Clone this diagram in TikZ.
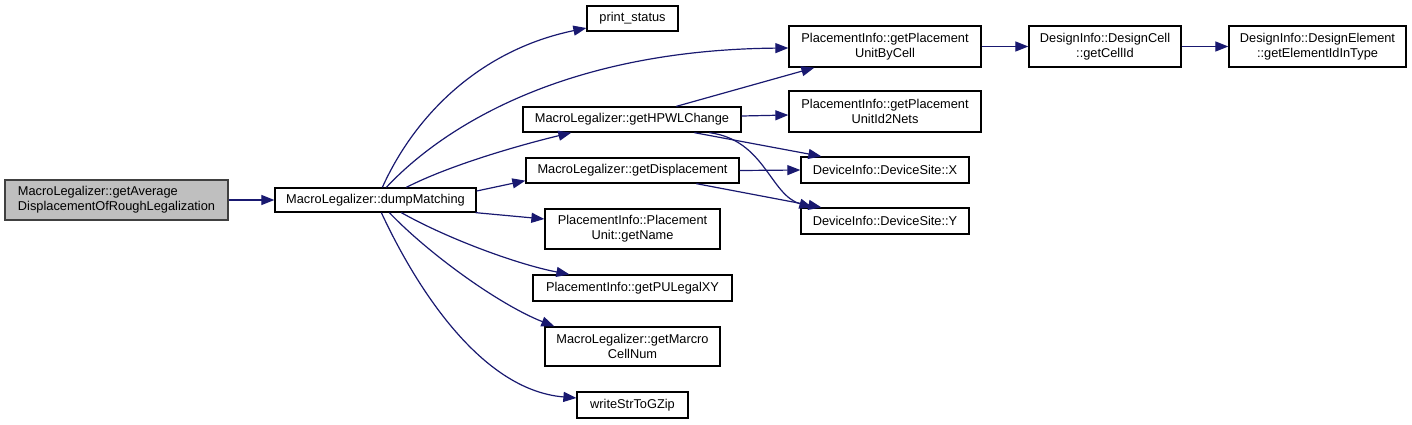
\documentclass[tikz,border=0pt]{standalone}
\usepackage{fontspec}
\setmainfont{Liberation Sans}
\usetikzlibrary{arrows.meta,calc}
\definecolor{edgeblue}{HTML}{191970}
\definecolor{rootfill}{HTML}{BFBFBF}
\definecolor{rootdraw}{HTML}{404040}
\tikzset{
  fn/.style={draw=black, line width=1.3pt, fill=white, inner sep=0pt, align=center,
    font=\fontsize{12.8}{15}\selectfont},
  rootbox/.style={fn, fill=rootfill, draw=rootdraw, align=left},
  call/.style={draw=edgeblue, line width=1.2pt, -{Triangle[length=13pt,width=10pt]}},
}
\begin{document}
\begin{tikzpicture}[x=1pt,y=-1pt]
\useasboundingbox (0,0) rectangle (1412,424);
% nodes
\node[rootbox, minimum width=223pt, minimum height=40pt] (root) at (116.5,200) {MacroLegalizer::getAverage\\DisplacementOfRoughLegalization};
\node[fn, minimum width=201pt, minimum height=24pt] (dm) at (375.5,200) {MacroLegalizer::dumpMatching};
\node[fn, minimum width=91pt, minimum height=25pt] (ps) at (632.5,18.5) {print\_status};
\node[fn, minimum width=218pt, minimum height=25pt] (hp) at (632,119.5) {MacroLegalizer::getHPWLChange};
\node[fn, minimum width=213pt, minimum height=25pt] (ds) at (632.5,170.5) {MacroLegalizer::getDisplacement};
\node[fn, minimum width=175pt, minimum height=40pt] (gn) at (632.5,229) {PlacementInfo::Placement\\Unit::getName};
\node[fn, minimum width=199pt, minimum height=26pt] (pl) at (632.5,288) {PlacementInfo::getPULegalXY};
\node[fn, minimum width=175pt, minimum height=39pt] (mc) at (632.5,346.5) {MacroLegalizer::getMarcro\\CellNum};
\node[fn, minimum width=111pt, minimum height=26pt] (wz) at (632.5,405) {writeStrToGZip};
\node[fn, minimum width=192pt, minimum height=41pt] (puc) at (885,46.5) {PlacementInfo::getPlacement\\UnitByCell};
\node[fn, minimum width=192pt, minimum height=41pt] (un) at (885,111.5) {PlacementInfo::getPlacement\\UnitId2Nets};
\node[fn, minimum width=168pt, minimum height=26pt] (dx) at (885,170) {DeviceInfo::DeviceSite::X};
\node[fn, minimum width=168pt, minimum height=26pt] (dy) at (885,221) {DeviceInfo::DeviceSite::Y};
\node[fn, minimum width=152pt, minimum height=41pt] (dc) at (1105,46.5) {DesignInfo::DesignCell\\::getCellId};
\node[fn, minimum width=177pt, minimum height=41pt] (de) at (1317.5,46.5) {DesignInfo::DesignElement\\::getElementIdInType};
% edges
\draw[call] (root) -- (dm);
\draw[call] ($(dm.north west)+(108,0)$) .. controls (415,115) and (480,50) .. ($(ps.west)+(0,9.5)$);
\draw[call] ($(dm.north west)+(112,0)$) .. controls (440,130) and (560,50) .. ($(puc.west)+(0,1.5)$);
\draw[call] ($(dm.north west)+(132,0)$) .. controls (450,165) and (520,145) .. ($(hp.south west)+(49,0)$);
\draw[call] ($(dm.east)+(0,-9)$) -- ($(ds.south west)+(0,-3)$);
\draw[call] ($(dm.south east)+(-1,0)$) -- ($(gn.west)+(0,-10)$);
\draw[call] ($(dm.south west)+(127,0)$) .. controls (450,240) and (520,265) .. ($(pl.north west)+(37,0)$);
\draw[call] ($(dm.south west)+(115,0)$) .. controls (430,255) and (500,305) .. ($(mc.north west)+(10,0)$);
\draw[call] ($(dm.south west)+(107,0)$) .. controls (415,285) and (480,390) .. ($(wz.west)+(0,-7)$);
\draw[call] ($(hp.north west)+(154,0)$) -- ($(puc.south west)+(26,0)$);
\draw[call] ($(hp.east)+(0,-3.5)$) -- ($(un.west)+(0,3.5)$);
\draw[call] ($(hp.south west)+(172,0)$) -- ($(dx.north west)+(21,0)$);
\draw[call] ($(hp.south west)+(187,0)$) .. controls (765,140) and (770,195) .. ($(dy.north west)+(12,0)$);
\draw[call] (ds.east) -- (dx.west);
\draw[call] ($(ds.south west)+(171,0)$) -- ($(dy.north west)+(21,0)$);
\draw[call] (puc) -- (dc);
\draw[call] (dc) -- (de);
\end{tikzpicture}
\end{document}
